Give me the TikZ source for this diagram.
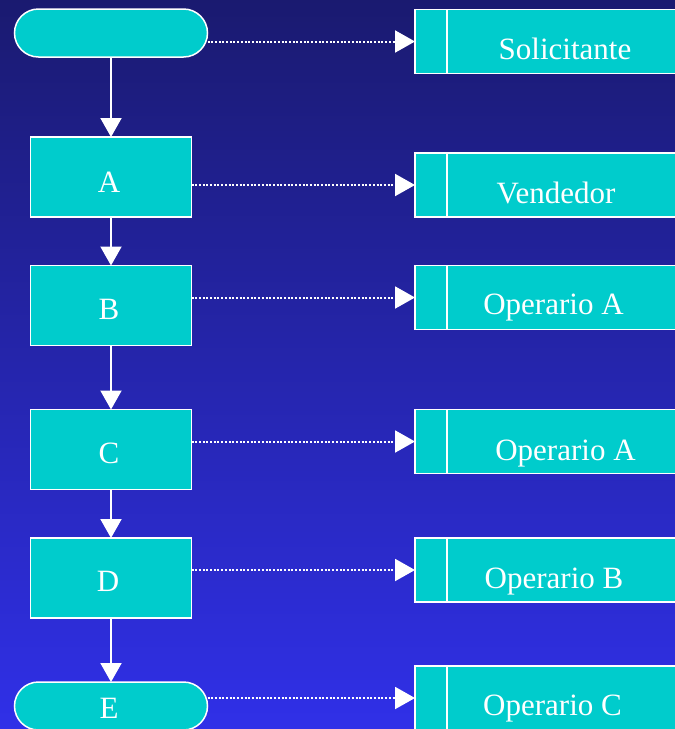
\documentclass[tikz,border=0pt]{standalone}
\usepackage{fontspec}
\setmainfont{Liberation Serif}
\usetikzlibrary{arrows.meta}
\definecolor{bgtop}{RGB}{26,26,112}
\definecolor{bgbot}{RGB}{48,48,232}
\definecolor{boxfill}{RGB}{0,204,204}
\tikzset{
  shapebox/.style={draw=white, line width=1.5pt, fill=boxfill, inner sep=0pt, outer sep=0pt},
  procbox/.style={shapebox, minimum width=161pt, minimum height=80pt},
  termbox/.style={shapebox, rounded corners=24pt, minimum width=193pt, minimum height=48pt},
  rolebox/.style={shapebox, minimum width=300pt, minimum height=64pt, anchor=west},
  lbl/.style={text=white, font=\fontsize{31}{36}\selectfont, anchor=base, inner sep=0pt},
  flowarrow/.style={draw=white, line width=2pt, -{Triangle[width=21pt,length=19pt]}},
  dotarrow/.style={draw=white, line width=2pt, dash pattern=on 2pt off 1.7pt, -{Triangle[width=22pt,length=20pt]}}
}
\begin{document}
\begin{tikzpicture}[x=1pt,y=-1pt]
\useasboundingbox (0,0) rectangle (675,729);
\clip (0,0) rectangle (675,729);
\shade[top color=bgtop, bottom color=bgbot] (0,0) rectangle (675,729);

% left column
\node[termbox] (s) at (111,33) {};
\node[procbox] (a) at (111,177) {};
\node[procbox] (b) at (111,305.5) {};
\node[procbox] (c) at (111,449.5) {};
\node[procbox] (d) at (111,578) {};
\node[termbox] (e) at (111,706) {};

\node[lbl] (la) at (109,192) {A};
\node[lbl] (lb) at (109,319) {B};
\node[lbl] (lc) at (109,463) {C};
\node[lbl] (ld) at (108,591) {D};
\node[lbl] (le) at (109,718) {E};

% right column
\node[rolebox] (r1) at (415,41.5) {};
\node[rolebox] (r2) at (415,185) {};
\node[rolebox] (r3) at (415,297.5) {};
\node[rolebox] (r4) at (415,441.5) {};
\node[rolebox] (r5) at (415,570) {};
\node[rolebox] (r6) at (415,698) {};
\foreach \r in {r1,r2,r3,r4,r5,r6}{
  \draw[white, line width=1.5pt] ([xshift=32pt]\r.north west) -- ([xshift=32pt]\r.south west);
}
\node[lbl] (t1) at (565,59) {Solicitante};
\node[lbl] (t2) at (556,203) {Vendedor};
\node[lbl] (t3) at (553.5,314) {Operario A};
\node[lbl] (t4) at (565.5,460) {Operario A};
\node[lbl] (t5) at (554,588) {Operario B};
\node[lbl] (t6) at (552.5,715) {Operario C};

% flow arrows
\draw[flowarrow] (s.south) -- (a.north);
\draw[flowarrow] (a.south) -- (b.north);
\draw[flowarrow] (b.south) -- (c.north);
\draw[flowarrow] (c.south) -- (d.north);
\draw[flowarrow] (d.south) -- (e.north);

% dotted arrows
\draw[dotarrow] (s.east |- r1.west) -- (r1.west);
\draw[dotarrow] (a.east |- r2.west) -- (r2.west);
\draw[dotarrow] (b.east |- r3.west) -- (r3.west);
\draw[dotarrow] (c.east |- r4.west) -- (r4.west);
\draw[dotarrow] (d.east |- r5.west) -- (r5.west);
\draw[dotarrow] (e.east |- r6.west) -- (r6.west);
\end{tikzpicture}
\end{document}
